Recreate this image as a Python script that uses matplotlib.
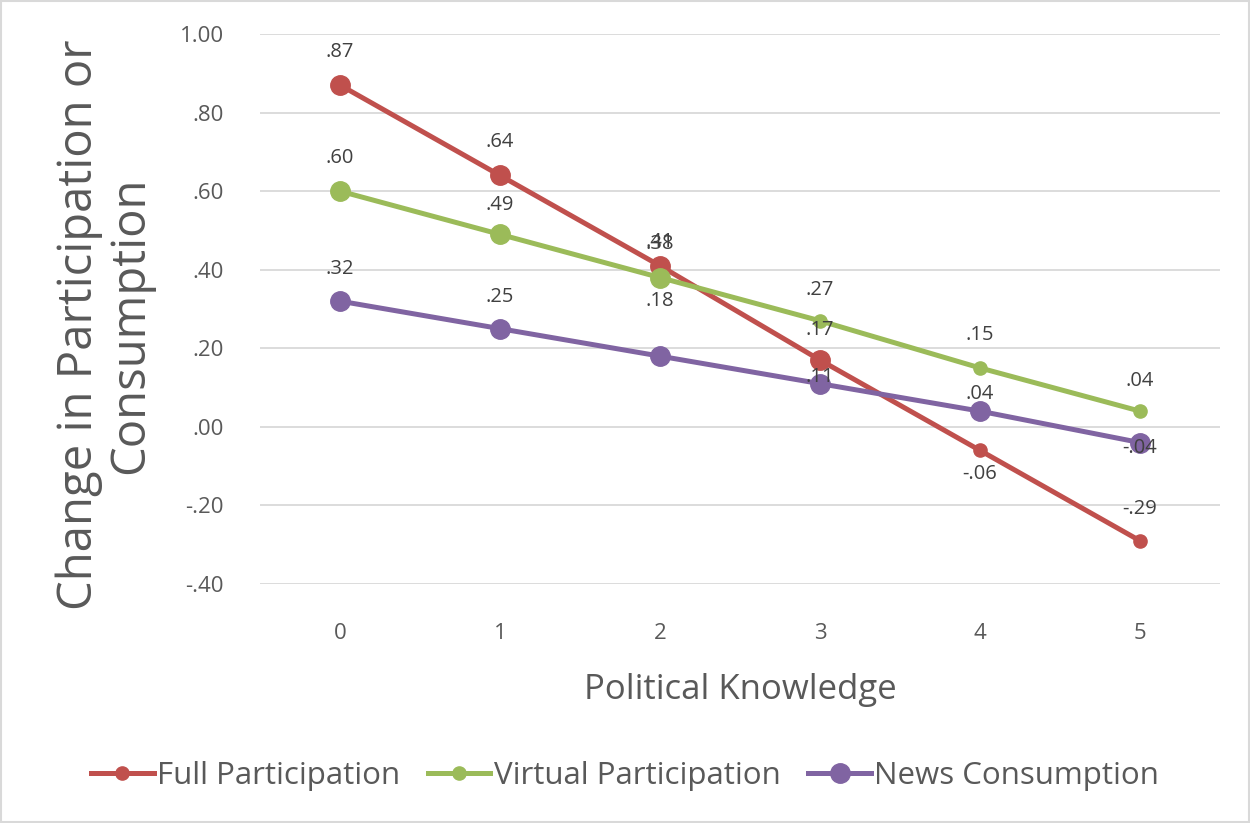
import numpy as np
import matplotlib
matplotlib.use('Agg')
import matplotlib.pyplot as plt
from matplotlib.patches import Rectangle

plt.rcParams['font.family'] = ['Open Sans', 'DejaVu Sans']

knowledge = [0, 1, 2, 3, 4, 5]
full_part = [.87, .64, .41, .17, -.06, -.29]
virtual_part = [.60, .49, .38, .27, .15, .04]
news_cons = [.32, .25, .18, .11, .04, -.04]
ytick_vals = [-.4, -.2, 0, .2, .4, .6, .8, 1.0]
ytick_text = ['-.40', '-.20', '.00', '.20', '.40', '.60', '.80', '1.00']

# which points get the big marker
full_big = [True, True, True, True, False, False]
virtual_big = [True, True, True, False, False, False]
news_big = [True, True, True, True, True, True]

# label offsets in points (vertical)
full_off = [24, 24, 17, 22, -17, 23]
virtual_off = [24, 21, 24, 22, 24, 22]
news_off = [23, 23, 40, 5, 12, -4]

grey_text = '#595959'
series = [
    ('Full Participation', full_part, full_big, full_off, '#C0504D', False),
    ('Virtual Participation', virtual_part, virtual_big, virtual_off, '#9BBB59', False),
    ('News Consumption', news_cons, news_big, news_off, '#8064A2', True),
]

fig = plt.figure(figsize=(12.5, 8.23), dpi=100)
ax = fig.add_axes([260 / 1250, 1 - 584 / 823, 960 / 1250, 550 / 823])

for name, vals, big, offs, col, legend_big in series:
    ax.plot(knowledge, vals, color=col, lw=3.6, solid_capstyle='round', zorder=3)
    sizes = [14 if b else 9.5 for b in big]
    for x, v, s, o in zip(knowledge, vals, sizes, offs):
        ax.plot(x, v, 'o', ms=s, color=col, mec=col, zorder=4)
        txt = ('%.2f' % v).replace('0.', '.')
        ax.annotate(txt, (x, v), xytext=(0, o), textcoords='offset points',
                    ha='center', va='center', fontsize=14.5, color='#404040', zorder=5)
    ax.plot([], [], '-o', color=col, lw=3.6, ms=14 if legend_big else 9.5, label=name)

ax.set_xlim(-0.5, 5.5)
ax.set_ylim(-0.4, 1.0)
ax.set_xticks(knowledge)
ax.set_yticks(ytick_vals)
ax.set_yticklabels(ytick_text)
ax.grid(axis='y', color='#D9D9D9', lw=1.3)
ax.set_axisbelow(True)
for sp in ax.spines.values():
    sp.set_visible(False)
ax.tick_params(length=0, labelsize=16, labelcolor=grey_text)
ax.tick_params(axis='y', pad=26)
ax.tick_params(axis='x', pad=28)

ax.set_xlabel('Political Knowledge', fontsize=25, color=grey_text, labelpad=21)
ax.set_ylabel('Change in Participation or\nConsumption', fontsize=34, color=grey_text,
              linespacing=1.1)
ax.yaxis.set_label_coords(-0.11, 0.471)

fig.legend(loc='center', bbox_to_anchor=(0.5, 1 - 776 / 823), ncol=3, frameon=False,
           fontsize=22.5, labelcolor=grey_text, handlelength=2.0, handletextpad=0.1,
           columnspacing=0.9)

fig.patches.append(Rectangle((0.001, 0.001), 0.998, 0.998, transform=fig.transFigure,
                             fill=False, ec='#D9D9D9', lw=1.5))

fig.savefig('out.png', dpi=100)
